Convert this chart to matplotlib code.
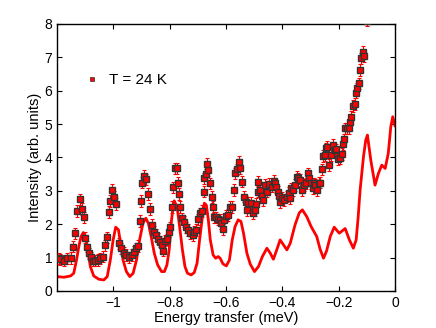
import matplotlib
matplotlib.use('Agg')
import matplotlib.pyplot as plt

plt.rcParams['font.family'] = ['Liberation Sans', 'DejaVu Sans']

# measured points, T = 24 K
energy = [-1.195, -1.188, -1.176, -1.164, -1.150, -1.143, -1.136, -1.129, -1.119, -1.112,
          -1.106, -1.100, -1.093, -1.086, -1.079, -1.072, -1.064, -1.056, -1.046, -1.037,
          -1.029, -1.022, -1.015, -1.011, -1.005, -0.999, -0.992, -0.981, -0.973, -0.963,
          -0.954, -0.944, -0.935, -0.928, -0.921, -0.914, -0.907, -0.902, -0.897, -0.890,
          -0.883, -0.878, -0.871, -0.864, -0.857, -0.850, -0.843, -0.836, -0.829, -0.824,
          -0.817, -0.810, -0.802, -0.798, -0.793, -0.788, -0.781, -0.774, -0.772, -0.767,
          -0.762, -0.755, -0.748, -0.741, -0.734, -0.727, -0.717, -0.713, -0.706, -0.699,
          -0.691, -0.684, -0.680, -0.677, -0.673, -0.668, -0.663, -0.656, -0.651, -0.646,
          -0.642, -0.635, -0.628, -0.623, -0.618, -0.611, -0.606, -0.599, -0.592, -0.585,
          -0.578, -0.573, -0.568, -0.561, -0.554, -0.550, -0.543, -0.538, -0.530, -0.525,
          -0.521, -0.511, -0.504, -0.499, -0.494, -0.487, -0.485, -0.480, -0.473, -0.468,
          -0.461, -0.454, -0.447, -0.437, -0.430, -0.426, -0.421, -0.416, -0.411, -0.407,
          -0.400, -0.393, -0.385, -0.378, -0.373, -0.369, -0.362, -0.355, -0.348, -0.343,
          -0.336, -0.331, -0.324, -0.317, -0.310, -0.305, -0.298, -0.291, -0.287, -0.283,
          -0.276, -0.271, -0.266, -0.259, -0.254, -0.249, -0.245, -0.240, -0.233, -0.226,
          -0.219, -0.214, -0.209, -0.202, -0.195, -0.190, -0.185, -0.181, -0.176, -0.169,
          -0.164, -0.160, -0.155, -0.148, -0.143, -0.138, -0.134, -0.129, -0.124, -0.120,
          -0.115, -0.110, -0.101]
intensity = [0.98, 0.95, 0.91, 0.98, 0.99, 1.33, 1.73, 2.40, 2.74, 2.45,
             2.21, 1.60, 1.33, 1.13, 1.01, 0.91, 0.91, 0.93, 0.98, 1.03,
             1.37, 1.61, 2.37, 2.69, 3.02, 2.82, 2.60, 1.43, 1.28, 1.15,
             1.08, 1.01, 1.08, 1.18, 1.28, 1.35, 2.10, 2.69, 3.24, 3.44,
             3.34, 2.90, 2.45, 1.98, 1.78, 1.68, 1.57, 1.48, 1.38, 1.21,
             1.51, 1.55, 1.78, 1.91, 2.52, 3.10, 3.67, 3.67, 3.24, 2.90,
             2.52, 2.18, 2.08, 1.91, 1.83, 1.73, 1.68, 1.78, 1.83, 2.15,
             2.33, 2.40, 2.97, 3.37, 3.49, 3.80, 3.62, 3.22, 2.81, 2.52,
             2.21, 2.21, 2.15, 2.13, 2.03, 1.85, 2.13, 2.25, 2.28, 2.52,
             2.52, 3.02, 3.52, 3.64, 3.87, 3.67, 3.27, 2.82, 2.67, 2.43,
             2.63, 2.63, 2.33, 2.43, 2.60, 2.97, 3.27, 3.02, 2.84, 2.72,
             3.17, 2.97, 3.20, 3.12, 3.30, 3.22, 3.10, 2.97, 2.84, 2.67,
             2.78, 2.72, 2.82, 2.93, 2.78, 3.07, 3.02, 3.17, 3.42, 3.37,
             3.32, 3.02, 3.17, 3.22, 3.52, 3.37, 3.22, 3.07, 3.22, 3.17,
             3.02, 3.24, 3.24, 3.64, 4.04, 4.07, 4.27, 4.32, 3.77, 4.07,
             4.37, 4.22, 4.24, 3.94, 3.97, 4.10, 4.40, 4.54, 4.87, 4.87,
             4.87, 5.07, 5.22, 5.54, 5.60, 5.94, 6.07, 6.22, 6.62, 6.97,
             7.16, 7.04, 8.10]
err = 0.17

# calculated curve
calc_e = [-1.200, -1.176, -1.152, -1.141, -1.131, -1.123, -1.115, -1.107, -1.099, -1.091,
          -1.082, -1.070, -1.052, -1.034, -1.022, -1.011, -1.001, -0.992, -0.982, -0.975,
          -0.966, -0.954, -0.942, -0.930, -0.918, -0.907, -0.895, -0.885, -0.876, -0.866,
          -0.855, -0.843, -0.829, -0.819, -0.810, -0.802, -0.795, -0.788, -0.784, -0.774,
          -0.765, -0.755, -0.746, -0.737, -0.724, -0.713, -0.703, -0.694, -0.684, -0.677,
          -0.670, -0.663, -0.656, -0.646, -0.637, -0.628, -0.621, -0.611, -0.599, -0.588,
          -0.578, -0.568, -0.557, -0.547, -0.538, -0.526, -0.514, -0.499, -0.485, -0.471,
          -0.455, -0.443, -0.432, -0.420, -0.408, -0.396, -0.384, -0.372, -0.355, -0.340,
          -0.329, -0.313, -0.298, -0.278, -0.266, -0.254, -0.243, -0.230, -0.216, -0.198,
          -0.177, -0.162, -0.148, -0.138, -0.131, -0.124, -0.112, -0.104, -0.098, -0.086,
          -0.071, -0.059, -0.047, -0.035, -0.024, -0.015, -0.008, 0.0]
calc_i = [0.43, 0.41, 0.45, 0.53, 0.93, 1.33, 1.63, 1.75, 1.63, 1.23,
          0.73, 0.45, 0.35, 0.33, 0.43, 0.93, 1.53, 1.91, 1.83, 1.43,
          0.93, 0.58, 0.43, 0.53, 0.93, 1.53, 2.03, 2.18, 2.03, 1.63,
          1.13, 0.78, 0.58, 0.58, 0.78, 1.23, 2.03, 2.52, 2.70, 2.52,
          1.93, 1.23, 0.73, 0.53, 0.48, 0.55, 0.83, 1.53, 2.22, 2.63,
          2.57, 2.13, 1.53, 1.08, 0.98, 1.03, 0.98, 0.81, 0.75, 0.93,
          1.53, 1.93, 2.13, 2.08, 1.73, 1.13, 0.80, 0.58, 0.73, 1.03,
          1.28, 1.13, 0.95, 1.23, 1.53, 1.38, 1.23, 1.43, 1.98, 2.34,
          2.43, 2.22, 1.93, 1.63, 1.25, 0.98, 1.20, 1.63, 1.91, 1.73,
          1.87, 1.53, 1.28, 1.53, 2.20, 3.02, 4.02, 4.52, 4.67, 3.92,
          3.17, 3.52, 3.77, 3.67, 4.12, 4.92, 5.22, 4.95]

fig = plt.figure(figsize=(4.36, 3.28), dpi=100)
ax = fig.add_axes([0.131, 0.113, 0.775, 0.814])

ax.plot(calc_e, calc_i, color='red', lw=2.0, zorder=2)
ax.errorbar(energy, intensity, yerr=err, fmt='none', ecolor='red', elinewidth=0.8,
            capsize=1.2, capthick=0.8, zorder=3)
ax.plot(energy, intensity, 's', ms=4.3, mfc='red', mec='0.2', mew=1.0, zorder=4,
        label='T = 24 K')

ax.set_xlim(-1.2, 0)
ax.set_ylim(0, 8)
ax.set_xticks([-1, -0.8, -0.6, -0.4, -0.2, 0])
ax.set_xticklabels(['\u22121', '\u22120.8', '\u22120.6', '\u22120.4', '\u22120.2', '0'])
ax.set_yticks(range(0, 9))
ax.tick_params(direction='in', top=True, right=True, labelsize=10, length=3.5, width=0.8)
for s in ax.spines.values():
    s.set_linewidth(1.0)
ax.set_xlabel('Energy transfer (meV)', fontsize=10.5, labelpad=1)
ax.set_ylabel('Intensity (arb. units)', fontsize=10.5, labelpad=2)

leg = ax.legend(loc='center left', bbox_to_anchor=(0.04, 0.79), frameon=False,
                fontsize=11, handlelength=1.0, handletextpad=0.6, markerscale=0.8)
leg.legend_handles[0].set_markeredgewidth(0.5)

fig.savefig('out.png', dpi=100)
